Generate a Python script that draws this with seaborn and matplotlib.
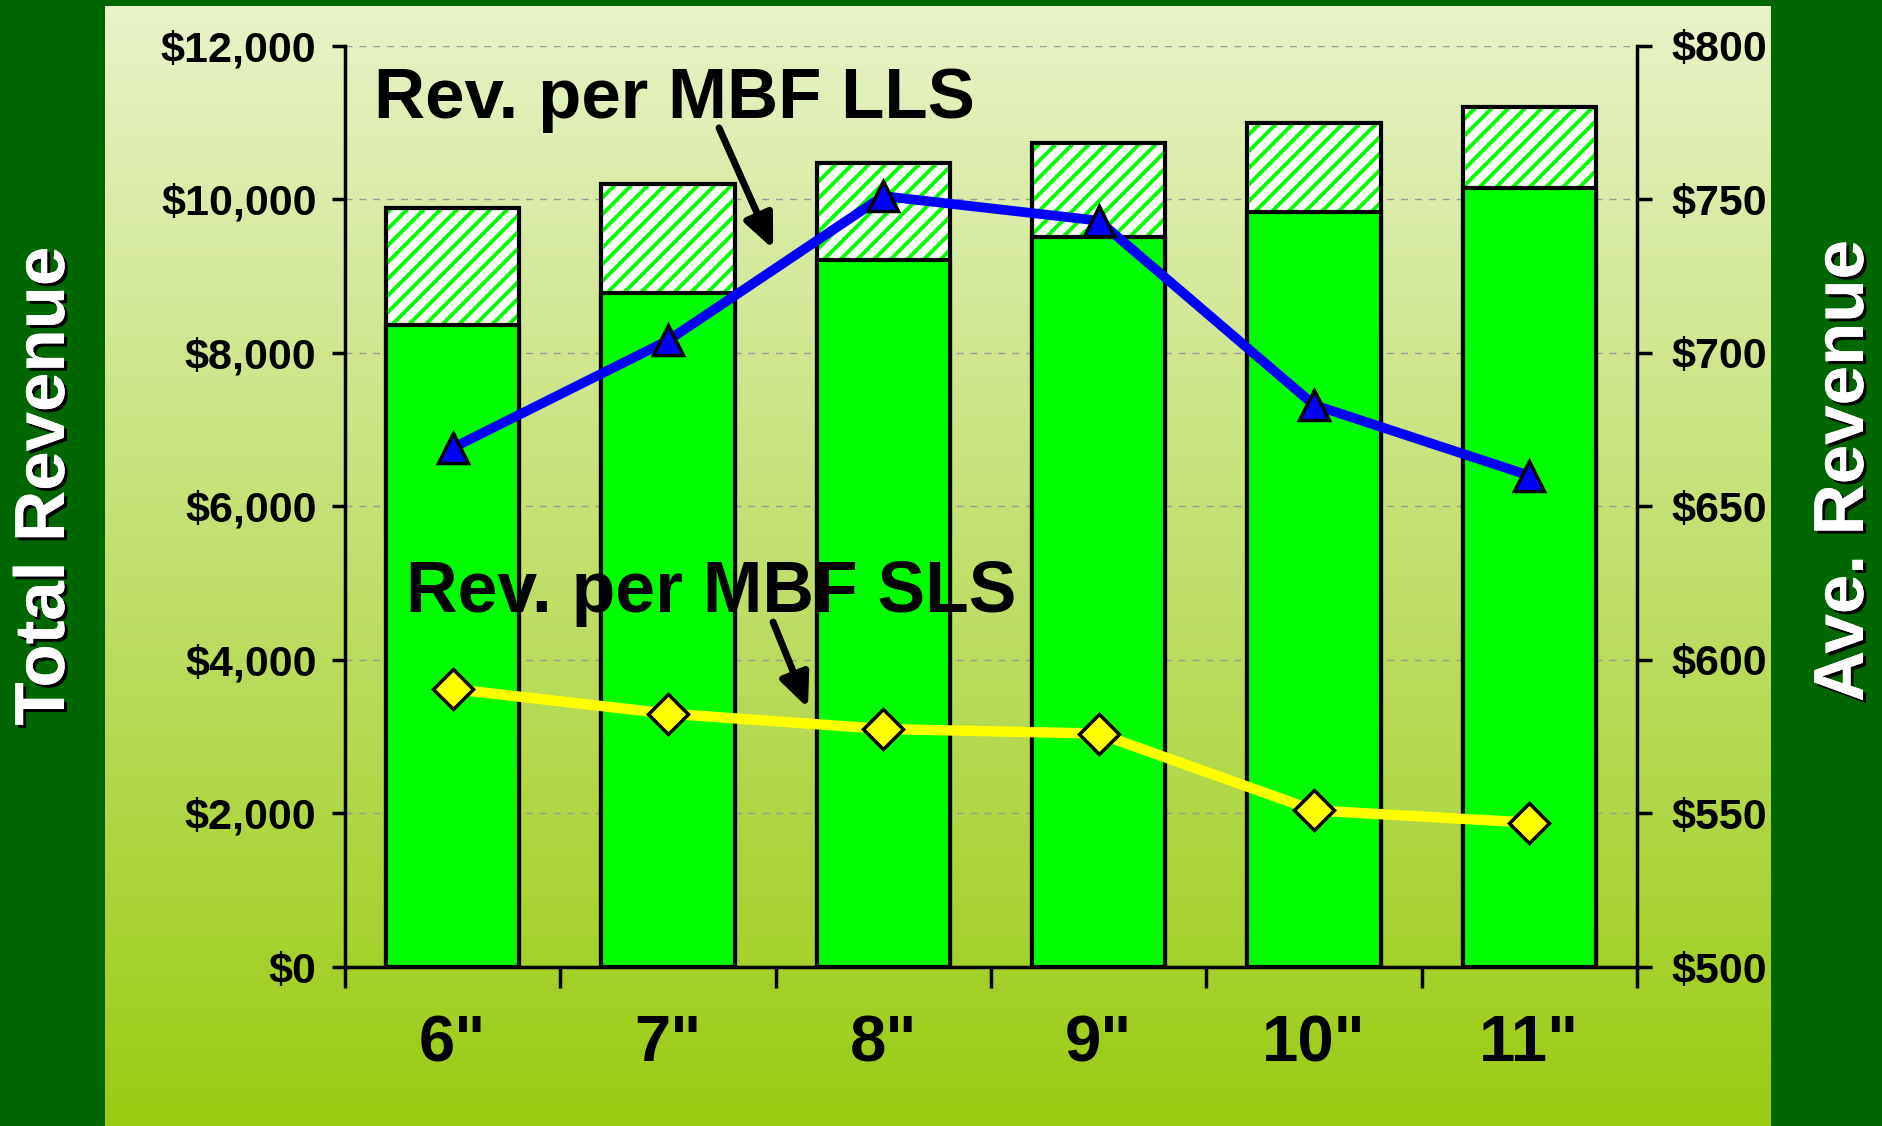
import numpy as np
import matplotlib
matplotlib.use("Agg")
import matplotlib.pyplot as plt
import matplotlib.patheffects as pe
from matplotlib.ticker import FuncFormatter, FixedLocator
import seaborn as sns

# Log diameter classes
categories = ['6"', '7"', '8"', '9"', '10"', '11"']
# Total revenue per class ($): solid part and overall bar height
base_revenue = [8360, 8780, 9210, 9510, 9830, 10150]
total_revenue = [9880, 10200, 10470, 10730, 10990, 11200]
# Average revenue per MBF ($) on the secondary axis
rev_per_mbf_lls = [669, 704, 751, 743, 683, 660]
rev_per_mbf_sls = [590.5, 582.5, 577.5, 576, 551, 547]

left_ticks = [0, 2000, 4000, 6000, 8000, 10000, 12000]
right_ticks = [500, 550, 600, 650, 700, 750, 800]

sns.set_theme(style="ticks")
plt.rcParams["font.family"] = ["Liberation Sans", "DejaVu Sans"]
plt.rcParams["font.weight"] = "bold"
plt.rcParams["hatch.linewidth"] = 2.8

W, H = 1883, 1126
fig = plt.figure(figsize=(W / 100, H / 100), dpi=100)
fig.patch.set_facecolor("#006600")

# Light-to-lime gradient panel behind the chart
bg = fig.add_axes([105 / W, 0, (1771 - 105) / W, (H - 6) / H])
top_c = np.array([232, 243, 200]) / 255
bot_c = np.array([154, 204, 18]) / 255
t = np.linspace(0, 1, 256)[:, None]
grad = top_c[None, :] * (1 - t) + bot_c[None, :] * t
bg.imshow(grad[:, None, :], aspect="auto", extent=[0, 1, 0, 1])
bg.set_axis_off()

ax = fig.add_axes([345 / W, 1 - 967 / H, (1637 - 345) / W, (967 - 45.6) / H])
ax.set_facecolor("none")

bar_w = 0.62
# Hatched upper segment (full height), then outline, then solid base on top
sns.barplot(x=categories, y=total_revenue, ax=ax, color="white", saturation=1,
            edgecolor="#00ff00", hatch="//", linewidth=0, width=bar_w, zorder=2)
sns.barplot(x=categories, y=total_revenue, ax=ax, fill=False,
            edgecolor="black", linewidth=3, width=bar_w, zorder=3)
sns.barplot(x=categories, y=base_revenue, ax=ax, color="#00ff00", saturation=1,
            edgecolor="black", linewidth=3, width=bar_w, zorder=4)

ax.set_xlim(-0.5, len(categories) - 0.5)
ax.set_ylim(0, 12000)
ax.set_yticks(left_ticks)
ax.yaxis.set_major_formatter(FuncFormatter(lambda v, p: f"${v:,.0f}"))
ax.set_axisbelow(True)
ax.yaxis.grid(True, linestyle=(0, (5, 5)), color="#999999", linewidth=1.0)
ax.xaxis.grid(False)
ax.set_xlabel("")
ax.set_ylabel("")

ax.tick_params(axis="y", which="major", direction="out", length=9.5, width=2.5,
               labelsize=31, pad=11, colors="black")
ax.tick_params(axis="x", which="major", length=0, labelsize=47, pad=34,
               labelcolor="black")
ax.xaxis.set_minor_locator(FixedLocator(np.arange(-0.5, len(categories), 1.0)))
ax.tick_params(axis="x", which="minor", direction="out", length=15, width=2.5,
               color="black")
for lab in ax.get_xticklabels() + ax.get_yticklabels():
    lab.set_fontweight("bold")
    lab.set_color("black")

for s in ["left", "bottom"]:
    ax.spines[s].set_linewidth(2.5)
    ax.spines[s].set_color("black")
ax.spines["top"].set_visible(False)
ax.spines["right"].set_visible(False)

# Secondary axis with the per-MBF lines
ax2 = ax.twinx()
xpos = np.arange(len(categories))
sns.lineplot(x=xpos, y=rev_per_mbf_lls, ax=ax2, color="#0000ff", linewidth=7,
             marker="^", markersize=21, markeredgecolor="black",
             markeredgewidth=2.5, legend=False, zorder=5)
sns.lineplot(x=xpos, y=rev_per_mbf_sls, ax=ax2, color="#ffff00", linewidth=7.5,
             marker="D", markersize=20, markeredgecolor="black",
             markeredgewidth=2.5, legend=False, zorder=5)
ax2.set_xlim(-0.5, len(categories) - 0.5)
ax2.set_ylim(500, 800)
ax2.set_yticks(right_ticks)
ax2.yaxis.set_major_formatter(FuncFormatter(lambda v, p: f"${v:,.0f}"))
ax2.tick_params(axis="y", direction="out", length=11, width=2.5, labelsize=31,
                pad=14, colors="black")
for lab in ax2.get_yticklabels():
    lab.set_fontweight("bold")
ax2.set_ylabel("")
ax2.grid(False)
for s in ["top", "left", "bottom"]:
    ax2.spines[s].set_visible(False)
ax2.spines["right"].set_linewidth(2.5)
ax2.spines["right"].set_color("black")

# Callout labels with arrows
arrow_kw = dict(arrowstyle="-|>,head_length=0.45,head_width=0.2", color="black",
                lw=5, mutation_scale=45, shrinkA=0, shrinkB=0)
ax2.text(-0.365, 776.4, "Rev. per MBF LLS", fontsize=51, fontweight="bold",
         ha="left", va="baseline", color="black", zorder=6)
ax2.annotate("", xy=(1.488, 733.8), xytext=(1.237, 773.2), arrowprops=arrow_kw)
ax2.text(-0.217, 615.6, "Rev. per MBF SLS", fontsize=51.5, fontweight="bold",
         ha="left", va="baseline", color="black", zorder=6)
ax2.annotate("", xy=(1.650, 584.3), xytext=(1.488, 612.3), arrowprops=arrow_kw)

# Axis titles in the dark side bands
shadow = [pe.withSimplePatchShadow(offset=(2.2, -2.2), shadow_rgbFace="black", alpha=1.0),
          pe.Normal()]
fig.text(46 / W, 1 - 486 / H, "Total Revenue", rotation=90, ha="center", va="center",
         fontsize=51, fontweight="bold", color="white", path_effects=shadow)
fig.text(1845 / W, 1 - 471 / H, "Ave. Revenue", rotation=90, ha="center", va="center",
         fontsize=51, fontweight="bold", color="white", path_effects=shadow)

fig.savefig("out.png", dpi=100, facecolor=fig.get_facecolor())
